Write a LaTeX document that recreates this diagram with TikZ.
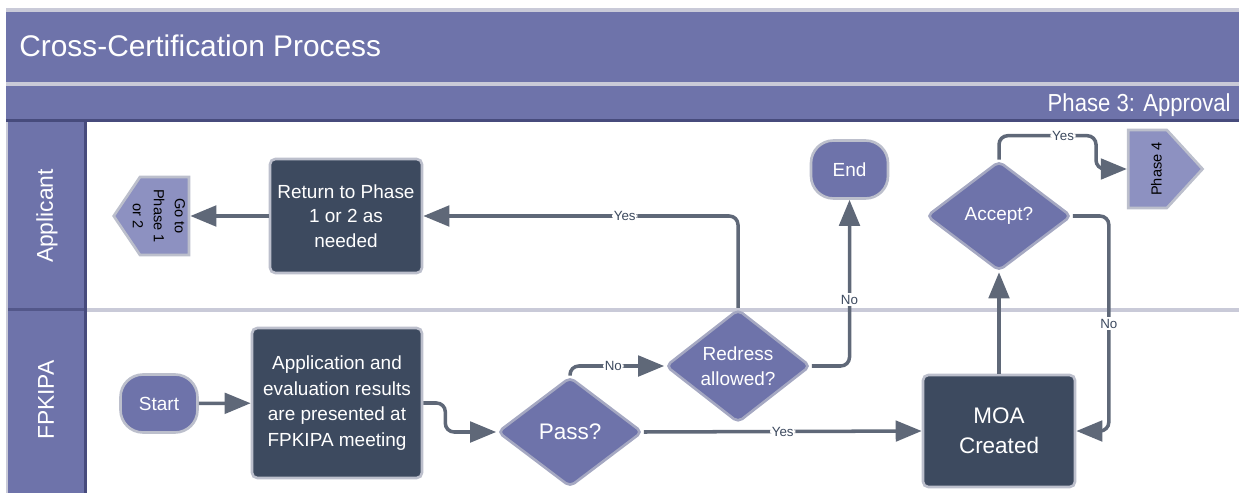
\documentclass[tikz,border=0pt]{standalone}
\usepackage{fontspec}
\setmainfont{Liberation Sans}
\newfontfamily\narrowfont[FakeStretch=0.9]{Liberation Sans}
\usetikzlibrary{arrows.meta,positioning,shapes.geometric,shapes.symbols}
\definecolor{LanePurple}{HTML}{6E73AA}
\definecolor{LaneDark}{HTML}{474B7C}
\definecolor{LaneGray}{HTML}{C9CAD8}
\definecolor{BoxDark}{HTML}{3D4A5F}
\definecolor{BoxEdge}{HTML}{BCBFCC}
\definecolor{PageLight}{HTML}{8D91C1}
\definecolor{LinkGray}{HTML}{5F6878}
\definecolor{LabelInk}{HTML}{3D4A5F}
\begin{document}
\begin{tikzpicture}[x=0.02cm, y=-0.02cm,
	every node/.style={font=\fontsize{10.8}{14}\selectfont},
	process/.style={rectangle, rounded corners=3pt, fill=BoxDark, draw=BoxEdge, line width=1.5pt, text=white, align=center},
	decision/.style={diamond, rounded corners=3pt, fill=LanePurple, draw=BoxEdge!70!LanePurple, line width=1.5pt, text=white, align=center, minimum width=2.9cm, minimum height=2.2cm, inner sep=0pt},
	terminal/.style={rectangle, rounded corners=0.45cm, fill=LanePurple, draw=BoxEdge, line width=1.5pt, text=white, minimum width=1.54cm, minimum height=1.16cm},
	offpage/.style={signal, signal to=south, fill=PageLight, draw=BoxEdge, line width=1.5pt, text=black, inner sep=0pt, minimum width=1.56cm, minimum height=0pt, font=\fontsize{8.3}{12}\selectfont},
	link/.style={draw=LinkGray, line width=2pt, rounded corners=5pt, -{Triangle[length=0.52cm,width=0.41cm]}},
	answer/.style={fill=white, text=LabelInk, inner sep=1pt, font=\fontsize{7.6}{9}\selectfont},
	]
	\useasboundingbox (0,0) rectangle (1239,493);
	
	% header bars
	\fill[LaneGray] (6,8) rectangle (1239,12);
	\fill[LanePurple] (6,12) rectangle (1239,82);
	\fill[LaneGray] (6,82) rectangle (1239,86);
	\fill[LanePurple] (6,86) rectangle (1239,119);
	\fill[LaneDark] (6,119) rectangle (1239,122);
	\node[anchor=base west, inner sep=0pt, text=white, font=\fontsize{17}{19}\selectfont] (title) at (19,57) {Cross-Certification Process};
	\node[anchor=base east, inner sep=0pt, text=white, font=\narrowfont\fontsize{14}{16}\selectfont] (phase) at (1231,112) {Phase 3: Approval};
	
	% lanes
	\fill[LaneGray] (6,122) rectangle (8,493);
	\fill[LanePurple] (8,122) rectangle (84,493);
	\fill[LaneDark] (84,122) rectangle (87,493);
	\fill[LaneDark!70!LanePurple] (8,307.5) rectangle (84,311);
	\fill[LaneGray] (87,307.5) rectangle (1239,311.5);
	\node[rotate=90, text=white, font=\fontsize{13}{15}\selectfont] (applicant) at (47,216) {Applicant};
	\node[rotate=90, text=white, font=\fontsize{13}{15}\selectfont] (fpkipa) at (46,400) {FPKIPA};
	
	% Applicant lane
	\node[offpage, rotate=-90, signal pointer angle=112, text height=27.9pt, text depth=0pt] (goto) at (164.5,216) {\raisebox{-4.1pt}{\begin{tabular}[b]{@{}c@{}}Go to\\Phase 1\\or 2\end{tabular}}};
	\node[process, minimum width=3.04cm, minimum height=2.28cm] (ret) at (346,216) {Return to Phase\\1 or 2 as\\needed};
	\node[terminal] (end) at (849.5,169.5) {End};
	\node[decision] (accept) at (999,216) {Accept?};
	\node[offpage, rotate=90, signal pointer angle=95, text height=19pt, text depth=3pt] (phase4) at (1147.5,169) {Phase 4};
	
	% FPKIPA lane
	\node[terminal] (start) at (159,403.5) {Start};
	\node[process, minimum width=3.4cm, minimum height=3cm, font=\fontsize{10.8}{14.5}\selectfont] (app) at (337,403) {Application and\\evaluation results\\are presented at\\FPKIPA meeting};
	\node[decision, font=\fontsize{12.8}{15}\selectfont] (pass) at (570,432) {Pass?};
	\node[decision] (redress) at (738,366) {Redress\\allowed?};
	\node[process, minimum width=3.04cm, minimum height=2.24cm, font=\fontsize{12.8}{17}\selectfont] (moa) at (999,431) {MOA\\Created};
	
	% connectors
	\draw[link] (ret.west) -- (goto.north);
	%
	\draw[link] (redress.north) |- node[answer, pos=0.68] {Yes} (ret.east);
	%
	\draw[link] (redress.east) -| node[answer, pos=0.7] {No} (end.south);
	%
	\draw[link] (pass.north) |- node[answer, pos=0.73] {No} (redress.west);
	%
	\draw[link] (pass.east) -- node[answer] {Yes} (moa.west);
	%
	\draw[link] (start) -- (app);
	%
	\draw[link] (app.east) -- ++(22,0) |- (pass.west);
	%
	\draw[link] (moa.north) -- (accept.south);
	%
	\draw[link] (accept.north) -- ++(0,-24) -- node[answer, pos=0.66] {Yes} ++(97,0) |- (phase4.north);
	%
	\draw[link] (accept.east) -- ++(36,0) |- node[answer, pos=0.25] {No} (moa.east);
\end{tikzpicture}
\end{document}
